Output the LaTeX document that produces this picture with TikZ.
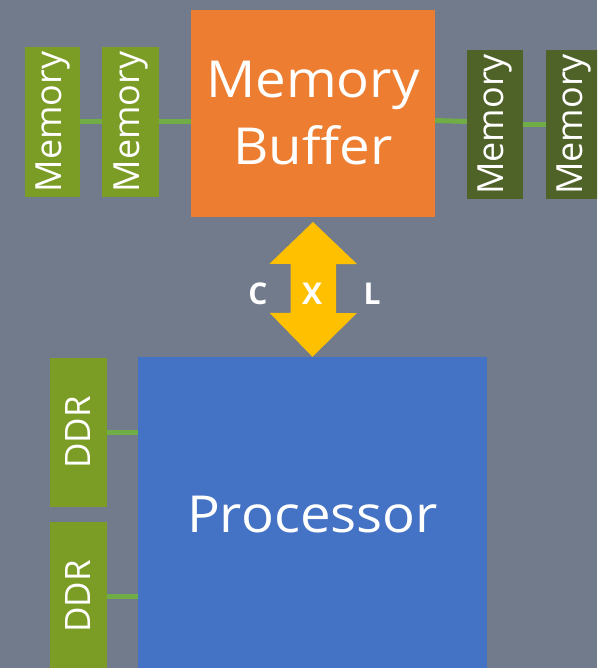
\documentclass[tikz,border=0pt]{standalone}
\usepackage{fontspec}
\usepackage{xcolor}
\usepackage{graphicx}
\usepackage{tikz}
\usetikzlibrary{calc}
\usetikzlibrary{positioning}
\newfontfamily\diagfont{Open Sans}
\newfontfamily\bigfont[FakeStretch=1.07]{Open Sans}
\definecolor{BgGray}{HTML}{717B8B}
\definecolor{BufOrange}{HTML}{ED7D31}
\definecolor{ProcBlue}{HTML}{4472C4}
\definecolor{MemGreen}{HTML}{7B9C25}
\definecolor{MemDark}{HTML}{4F6228}
\definecolor{LinkGreen}{HTML}{70AD47}
\definecolor{CxlYellow}{HTML}{FFC000}

\begin{document}
\begin{tikzpicture}[
		x=1pt,y=-1pt,
		MyBoxes/.style={rectangle,inner sep=0pt,text=white},
		MemBox/.style={MyBoxes,fill=MemGreen,minimum width=56,minimum height=150,font=\diagfont\fontsize{36}{40}\selectfont},
		MemBoxDark/.style={MemBox,fill=MemDark,minimum height=149},
		DdrBox/.style={MyBoxes,fill=MemGreen,minimum width=57,minimum height=149,font=\diagfont\fontsize{35}{40}\selectfont},
		BigBox/.style={MyBoxes,align=center,font=\bigfont\fontsize{51}{67}\selectfont},
		Links/.style={draw=LinkGreen,line width=5pt},
		CxlText/.style={text=white,font=\diagfont\bfseries\fontsize{30}{32}\selectfont},
		every node/.style={scale=1}
		]
		\clip (0,0) rectangle (597,668);
		\fill[BgGray] (0,0) rectangle (597,668);
		
		% memory buffer side
		\node[BigBox,fill=BufOrange,minimum width=244,minimum height=207] (buffer) at (313,113.5) {Memory\\Buffer};
		
		\node[MemBox,minimum width=55] (mem1) at (52.5,122) {\rotatebox{90}{Memory}};
		\node[MemBox,minimum width=57] (mem2) at (130.5,122) {\rotatebox{90}{Memory}};
		\node[MemBoxDark] (mem3) at (495,124.5) {\rotatebox{90}{Memory}};
		\node[MemBoxDark] (mem4) at (574,124.5) {\rotatebox{90}{Memory}};
		
		\draw[Links] (mem1.east) -- (mem2.west);
		\draw[Links] (mem2.east) -- (mem2.east -| buffer.west);
		\draw[Links] ($(buffer.east)+(0,7)$) -- ($(mem3.west)+(0,-3)$);
		\draw[Links] (mem3.east) -- (mem4.west);
		
		% processor side
		\node[BigBox,fill=ProcBlue,minimum width=349,minimum height=318] (proc) at (312.5,516) {\raisebox{3pt}{Processor}};
		
		\node[DdrBox] (ddr1) at (78.5,432.5) {\rotatebox{90}{DDR}};
		\node[DdrBox] (ddr2) at (78.5,596.5) {\rotatebox{90}{DDR}};
		
		\draw[Links] (ddr1.east) -- (ddr1.east -| proc.west);
		\draw[Links] (ddr2.east) -- (ddr2.east -| proc.west);
		
		% CXL link
		\coordinate (Top) at (buffer.south |- 0,222);
		\coordinate (Bot) at (proc.north);
		
		\fill[CxlYellow] (Top) -- ++(44,42) -- ++(-21,0) -- ++(0,49) -- ++(21,0)
			-- (Bot) -- ++(-43,-44) -- ++(21,0) -- ++(0,-49) -- ++(-21,0) -- cycle;
		
		\node[CxlText] (cxlc) at (258,294) {C};
		\node[CxlText] (cxlx) at (312,294) {X};
		\node[CxlText] (cxll) at (372,294) {L};
		
		%\draw[<->] (buffer) -- (proc);
		
	\end{tikzpicture}
\end{document}
